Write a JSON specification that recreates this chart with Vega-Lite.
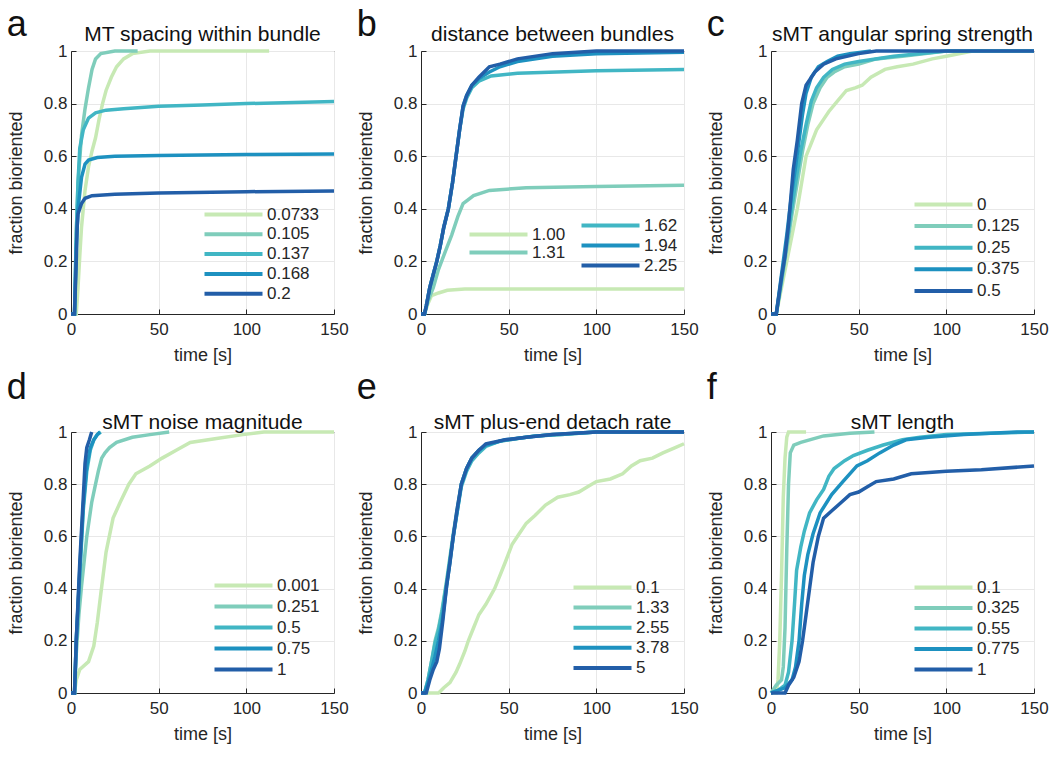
{
"$schema": "https://vega.github.io/schema/vega-lite/v6.json",
"padding": {"left": 6, "top": 6, "right": 2, "bottom": 2},
"background": "white",
"data": {"values": [
{"p":"a","s":"0.0733","t":0,"f":0},{"p":"a","s":"0.0733","t":3,"f":0},{"p":"a","s":"0.0733","t":4,"f":0.1},{"p":"a","s":"0.0733","t":5,"f":0.22},{"p":"a","s":"0.0733","t":6,"f":0.33},{"p":"a","s":"0.0733","t":8,"f":0.47},{"p":"a","s":"0.0733","t":10,"f":0.56},{"p":"a","s":"0.0733","t":12,"f":0.62},{"p":"a","s":"0.0733","t":14,"f":0.67},{"p":"a","s":"0.0733","t":16,"f":0.74},{"p":"a","s":"0.0733","t":18,"f":0.8},{"p":"a","s":"0.0733","t":20,"f":0.85},{"p":"a","s":"0.0733","t":23,"f":0.9},{"p":"a","s":"0.0733","t":26,"f":0.94},{"p":"a","s":"0.0733","t":30,"f":0.97},{"p":"a","s":"0.0733","t":35,"f":0.99},{"p":"a","s":"0.0733","t":45,"f":1},{"p":"a","s":"0.0733","t":113,"f":1},
{"p":"a","s":"0.105","t":0,"f":0},{"p":"a","s":"0.105","t":2,"f":0},{"p":"a","s":"0.105","t":3,"f":0.3},{"p":"a","s":"0.105","t":4,"f":0.5},{"p":"a","s":"0.105","t":6,"f":0.68},{"p":"a","s":"0.105","t":8,"f":0.78},{"p":"a","s":"0.105","t":10,"f":0.86},{"p":"a","s":"0.105","t":12,"f":0.93},{"p":"a","s":"0.105","t":14,"f":0.97},{"p":"a","s":"0.105","t":17,"f":0.99},{"p":"a","s":"0.105","t":25,"f":1},{"p":"a","s":"0.105","t":38,"f":1},
{"p":"a","s":"0.137","t":0,"f":0},{"p":"a","s":"0.137","t":2,"f":0},{"p":"a","s":"0.137","t":3,"f":0.3},{"p":"a","s":"0.137","t":4,"f":0.5},{"p":"a","s":"0.137","t":5,"f":0.63},{"p":"a","s":"0.137","t":7,"f":0.7},{"p":"a","s":"0.137","t":10,"f":0.745},{"p":"a","s":"0.137","t":14,"f":0.765},{"p":"a","s":"0.137","t":20,"f":0.775},{"p":"a","s":"0.137","t":30,"f":0.78},{"p":"a","s":"0.137","t":50,"f":0.79},{"p":"a","s":"0.137","t":75,"f":0.795},{"p":"a","s":"0.137","t":100,"f":0.8},{"p":"a","s":"0.137","t":150,"f":0.808},
{"p":"a","s":"0.168","t":0,"f":0},{"p":"a","s":"0.168","t":2,"f":0},{"p":"a","s":"0.168","t":3,"f":0.25},{"p":"a","s":"0.168","t":4,"f":0.4},{"p":"a","s":"0.168","t":6,"f":0.52},{"p":"a","s":"0.168","t":8,"f":0.57},{"p":"a","s":"0.168","t":10,"f":0.585},{"p":"a","s":"0.168","t":15,"f":0.595},{"p":"a","s":"0.168","t":25,"f":0.6},{"p":"a","s":"0.168","t":50,"f":0.603},{"p":"a","s":"0.168","t":100,"f":0.606},{"p":"a","s":"0.168","t":150,"f":0.608},
{"p":"a","s":"0.2","t":0,"f":0},{"p":"a","s":"0.2","t":2,"f":0},{"p":"a","s":"0.2","t":3,"f":0.2},{"p":"a","s":"0.2","t":3.5,"f":0.33},{"p":"a","s":"0.2","t":4,"f":0.38},{"p":"a","s":"0.2","t":6,"f":0.42},{"p":"a","s":"0.2","t":8,"f":0.44},{"p":"a","s":"0.2","t":12,"f":0.45},{"p":"a","s":"0.2","t":25,"f":0.455},{"p":"a","s":"0.2","t":50,"f":0.46},{"p":"a","s":"0.2","t":100,"f":0.465},{"p":"a","s":"0.2","t":150,"f":0.468},

{"p":"b","s":"1.00","t":0,"f":0},{"p":"b","s":"1.00","t":2,"f":0},{"p":"b","s":"1.00","t":4,"f":0.04},{"p":"b","s":"1.00","t":6,"f":0.07},{"p":"b","s":"1.00","t":10,"f":0.08},{"p":"b","s":"1.00","t":15,"f":0.09},{"p":"b","s":"1.00","t":25,"f":0.095},{"p":"b","s":"1.00","t":50,"f":0.095},{"p":"b","s":"1.00","t":100,"f":0.095},{"p":"b","s":"1.00","t":150,"f":0.095},
{"p":"b","s":"1.31","t":0,"f":0},{"p":"b","s":"1.31","t":2,"f":0},{"p":"b","s":"1.31","t":4,"f":0.05},{"p":"b","s":"1.31","t":7,"f":0.1},{"p":"b","s":"1.31","t":10,"f":0.17},{"p":"b","s":"1.31","t":14,"f":0.24},{"p":"b","s":"1.31","t":17.5,"f":0.3},{"p":"b","s":"1.31","t":21,"f":0.37},{"p":"b","s":"1.31","t":24,"f":0.42},{"p":"b","s":"1.31","t":30,"f":0.45},{"p":"b","s":"1.31","t":39,"f":0.47},{"p":"b","s":"1.31","t":60,"f":0.48},{"p":"b","s":"1.31","t":100,"f":0.485},{"p":"b","s":"1.31","t":150,"f":0.49},
{"p":"b","s":"1.62","t":0,"f":0},{"p":"b","s":"1.62","t":2,"f":0},{"p":"b","s":"1.62","t":3,"f":0.03},{"p":"b","s":"1.62","t":5,"f":0.1},{"p":"b","s":"1.62","t":7,"f":0.15},{"p":"b","s":"1.62","t":9,"f":0.2},{"p":"b","s":"1.62","t":11,"f":0.26},{"p":"b","s":"1.62","t":13,"f":0.33},{"p":"b","s":"1.62","t":15.6,"f":0.4},{"p":"b","s":"1.62","t":18,"f":0.5},{"p":"b","s":"1.62","t":20,"f":0.6},{"p":"b","s":"1.62","t":22,"f":0.7},{"p":"b","s":"1.62","t":24,"f":0.78},{"p":"b","s":"1.62","t":26,"f":0.82},{"p":"b","s":"1.62","t":29,"f":0.86},{"p":"b","s":"1.62","t":33,"f":0.885},{"p":"b","s":"1.62","t":40,"f":0.905},{"p":"b","s":"1.62","t":55,"f":0.915},{"p":"b","s":"1.62","t":100,"f":0.925},{"p":"b","s":"1.62","t":150,"f":0.93},
{"p":"b","s":"1.94","t":0,"f":0},{"p":"b","s":"1.94","t":2,"f":0},{"p":"b","s":"1.94","t":3,"f":0.03},{"p":"b","s":"1.94","t":5,"f":0.1},{"p":"b","s":"1.94","t":7,"f":0.15},{"p":"b","s":"1.94","t":9,"f":0.2},{"p":"b","s":"1.94","t":11,"f":0.26},{"p":"b","s":"1.94","t":13,"f":0.33},{"p":"b","s":"1.94","t":15.6,"f":0.4},{"p":"b","s":"1.94","t":18,"f":0.5},{"p":"b","s":"1.94","t":20,"f":0.6},{"p":"b","s":"1.94","t":22,"f":0.7},{"p":"b","s":"1.94","t":24,"f":0.79},{"p":"b","s":"1.94","t":26,"f":0.83},{"p":"b","s":"1.94","t":29,"f":0.87},{"p":"b","s":"1.94","t":33,"f":0.895},{"p":"b","s":"1.94","t":39,"f":0.92},{"p":"b","s":"1.94","t":45,"f":0.94},{"p":"b","s":"1.94","t":55,"f":0.96},{"p":"b","s":"1.94","t":75,"f":0.98},{"p":"b","s":"1.94","t":100,"f":0.99},{"p":"b","s":"1.94","t":150,"f":0.995},
{"p":"b","s":"2.25","t":0,"f":0},{"p":"b","s":"2.25","t":2,"f":0},{"p":"b","s":"2.25","t":3,"f":0.03},{"p":"b","s":"2.25","t":5,"f":0.1},{"p":"b","s":"2.25","t":7,"f":0.15},{"p":"b","s":"2.25","t":9,"f":0.2},{"p":"b","s":"2.25","t":11,"f":0.26},{"p":"b","s":"2.25","t":13,"f":0.33},{"p":"b","s":"2.25","t":15.6,"f":0.4},{"p":"b","s":"2.25","t":18,"f":0.5},{"p":"b","s":"2.25","t":20,"f":0.6},{"p":"b","s":"2.25","t":22,"f":0.7},{"p":"b","s":"2.25","t":24,"f":0.79},{"p":"b","s":"2.25","t":26,"f":0.83},{"p":"b","s":"2.25","t":29,"f":0.87},{"p":"b","s":"2.25","t":33,"f":0.9},{"p":"b","s":"2.25","t":39,"f":0.94},{"p":"b","s":"2.25","t":45,"f":0.95},{"p":"b","s":"2.25","t":55,"f":0.97},{"p":"b","s":"2.25","t":75,"f":0.99},{"p":"b","s":"2.25","t":100,"f":1},{"p":"b","s":"2.25","t":150,"f":1},

{"p":"c","s":"0","t":0,"f":0},{"p":"c","s":"0","t":3,"f":0},{"p":"c","s":"0","t":6,"f":0.1},{"p":"c","s":"0","t":9,"f":0.2},{"p":"c","s":"0","t":12,"f":0.3},{"p":"c","s":"0","t":15,"f":0.4},{"p":"c","s":"0","t":18,"f":0.52},{"p":"c","s":"0","t":20,"f":0.6},{"p":"c","s":"0","t":23,"f":0.65},{"p":"c","s":"0","t":26,"f":0.7},{"p":"c","s":"0","t":30,"f":0.74},{"p":"c","s":"0","t":33,"f":0.77},{"p":"c","s":"0","t":38,"f":0.81},{"p":"c","s":"0","t":43,"f":0.85},{"p":"c","s":"0","t":48,"f":0.86},{"p":"c","s":"0","t":52,"f":0.87},{"p":"c","s":"0","t":57,"f":0.9},{"p":"c","s":"0","t":65,"f":0.93},{"p":"c","s":"0","t":72,"f":0.94},{"p":"c","s":"0","t":81,"f":0.95},{"p":"c","s":"0","t":92,"f":0.97},{"p":"c","s":"0","t":100,"f":0.98},{"p":"c","s":"0","t":115,"f":1},{"p":"c","s":"0","t":150,"f":1},
{"p":"c","s":"0.125","t":0,"f":0},{"p":"c","s":"0.125","t":3,"f":0},{"p":"c","s":"0.125","t":6,"f":0.12},{"p":"c","s":"0.125","t":9,"f":0.25},{"p":"c","s":"0.125","t":12,"f":0.38},{"p":"c","s":"0.125","t":15,"f":0.5},{"p":"c","s":"0.125","t":18,"f":0.62},{"p":"c","s":"0.125","t":21,"f":0.72},{"p":"c","s":"0.125","t":24,"f":0.8},{"p":"c","s":"0.125","t":28,"f":0.86},{"p":"c","s":"0.125","t":32,"f":0.9},{"p":"c","s":"0.125","t":36,"f":0.92},{"p":"c","s":"0.125","t":42,"f":0.94},{"p":"c","s":"0.125","t":50,"f":0.95},{"p":"c","s":"0.125","t":60,"f":0.97},{"p":"c","s":"0.125","t":75,"f":0.98},{"p":"c","s":"0.125","t":100,"f":1},{"p":"c","s":"0.125","t":150,"f":1},
{"p":"c","s":"0.25","t":0,"f":0},{"p":"c","s":"0.25","t":3,"f":0},{"p":"c","s":"0.25","t":6,"f":0.13},{"p":"c","s":"0.25","t":9,"f":0.27},{"p":"c","s":"0.25","t":12,"f":0.41},{"p":"c","s":"0.25","t":15,"f":0.54},{"p":"c","s":"0.25","t":17,"f":0.62},{"p":"c","s":"0.25","t":20,"f":0.72},{"p":"c","s":"0.25","t":23,"f":0.81},{"p":"c","s":"0.25","t":26,"f":0.86},{"p":"c","s":"0.25","t":30,"f":0.9},{"p":"c","s":"0.25","t":35,"f":0.93},{"p":"c","s":"0.25","t":42,"f":0.95},{"p":"c","s":"0.25","t":50,"f":0.96},{"p":"c","s":"0.25","t":70,"f":0.98},{"p":"c","s":"0.25","t":100,"f":1},{"p":"c","s":"0.25","t":150,"f":1},
{"p":"c","s":"0.375","t":0,"f":0},{"p":"c","s":"0.375","t":3,"f":0},{"p":"c","s":"0.375","t":6,"f":0.15},{"p":"c","s":"0.375","t":9,"f":0.3},{"p":"c","s":"0.375","t":12,"f":0.47},{"p":"c","s":"0.375","t":14,"f":0.56},{"p":"c","s":"0.375","t":16,"f":0.66},{"p":"c","s":"0.375","t":18,"f":0.76},{"p":"c","s":"0.375","t":20,"f":0.84},{"p":"c","s":"0.375","t":23,"f":0.9},{"p":"c","s":"0.375","t":27,"f":0.94},{"p":"c","s":"0.375","t":32,"f":0.96},{"p":"c","s":"0.375","t":38,"f":0.98},{"p":"c","s":"0.375","t":45,"f":0.99},{"p":"c","s":"0.375","t":57,"f":1},
{"p":"c","s":"0.5","t":0,"f":0},{"p":"c","s":"0.5","t":3,"f":0},{"p":"c","s":"0.5","t":6,"f":0.14},{"p":"c","s":"0.5","t":8,"f":0.22},{"p":"c","s":"0.5","t":10,"f":0.34},{"p":"c","s":"0.5","t":12.7,"f":0.55},{"p":"c","s":"0.5","t":15,"f":0.66},{"p":"c","s":"0.5","t":17.5,"f":0.8},{"p":"c","s":"0.5","t":20,"f":0.87},{"p":"c","s":"0.5","t":25,"f":0.92},{"p":"c","s":"0.5","t":30,"f":0.95},{"p":"c","s":"0.5","t":37,"f":0.97},{"p":"c","s":"0.5","t":50,"f":0.99},{"p":"c","s":"0.5","t":60,"f":1},{"p":"c","s":"0.5","t":150,"f":1},

{"p":"d","s":"0.001","t":0,"f":0},{"p":"d","s":"0.001","t":2,"f":0},{"p":"d","s":"0.001","t":3,"f":0.05},{"p":"d","s":"0.001","t":5,"f":0.09},{"p":"d","s":"0.001","t":10,"f":0.12},{"p":"d","s":"0.001","t":13,"f":0.18},{"p":"d","s":"0.001","t":15,"f":0.27},{"p":"d","s":"0.001","t":17,"f":0.38},{"p":"d","s":"0.001","t":20,"f":0.54},{"p":"d","s":"0.001","t":24,"f":0.67},{"p":"d","s":"0.001","t":28,"f":0.73},{"p":"d","s":"0.001","t":33,"f":0.8},{"p":"d","s":"0.001","t":37,"f":0.84},{"p":"d","s":"0.001","t":45,"f":0.87},{"p":"d","s":"0.001","t":52,"f":0.9},{"p":"d","s":"0.001","t":60,"f":0.93},{"p":"d","s":"0.001","t":68,"f":0.96},{"p":"d","s":"0.001","t":83,"f":0.975},{"p":"d","s":"0.001","t":98,"f":0.99},{"p":"d","s":"0.001","t":110,"f":1},{"p":"d","s":"0.001","t":150,"f":1},
{"p":"d","s":"0.251","t":0,"f":0},{"p":"d","s":"0.251","t":2,"f":0},{"p":"d","s":"0.251","t":3,"f":0.15},{"p":"d","s":"0.251","t":4.5,"f":0.3},{"p":"d","s":"0.251","t":6,"f":0.41},{"p":"d","s":"0.251","t":9,"f":0.6},{"p":"d","s":"0.251","t":11.8,"f":0.73},{"p":"d","s":"0.251","t":14,"f":0.8},{"p":"d","s":"0.251","t":15.6,"f":0.85},{"p":"d","s":"0.251","t":17.5,"f":0.9},{"p":"d","s":"0.251","t":19.4,"f":0.92},{"p":"d","s":"0.251","t":22,"f":0.94},{"p":"d","s":"0.251","t":26,"f":0.96},{"p":"d","s":"0.251","t":35,"f":0.98},{"p":"d","s":"0.251","t":45,"f":0.99},{"p":"d","s":"0.251","t":56,"f":1},
{"p":"d","s":"0.5","t":0,"f":0},{"p":"d","s":"0.5","t":2,"f":0},{"p":"d","s":"0.5","t":3,"f":0.2},{"p":"d","s":"0.5","t":5,"f":0.45},{"p":"d","s":"0.5","t":7,"f":0.7},{"p":"d","s":"0.5","t":9,"f":0.85},{"p":"d","s":"0.5","t":11,"f":0.93},{"p":"d","s":"0.5","t":13,"f":0.97},{"p":"d","s":"0.5","t":15,"f":0.99},{"p":"d","s":"0.5","t":17,"f":1},
{"p":"d","s":"0.75","t":0,"f":0},{"p":"d","s":"0.75","t":2,"f":0},{"p":"d","s":"0.75","t":3,"f":0.2},{"p":"d","s":"0.75","t":5,"f":0.47},{"p":"d","s":"0.75","t":7,"f":0.72},{"p":"d","s":"0.75","t":9,"f":0.87},{"p":"d","s":"0.75","t":11,"f":0.94},{"p":"d","s":"0.75","t":13,"f":0.97},{"p":"d","s":"0.75","t":15,"f":0.99},{"p":"d","s":"0.75","t":16.5,"f":1},
{"p":"d","s":"1","t":0,"f":0},{"p":"d","s":"1","t":2,"f":0},{"p":"d","s":"1","t":3,"f":0.2},{"p":"d","s":"1","t":5,"f":0.5},{"p":"d","s":"1","t":7,"f":0.75},{"p":"d","s":"1","t":8,"f":0.88},{"p":"d","s":"1","t":9,"f":0.94},{"p":"d","s":"1","t":10.5,"f":0.97},{"p":"d","s":"1","t":11.8,"f":1},

{"p":"e","s":"0.1","t":0,"f":0},{"p":"e","s":"0.1","t":10,"f":0},{"p":"e","s":"0.1","t":13,"f":0.02},{"p":"e","s":"0.1","t":16.5,"f":0.04},{"p":"e","s":"0.1","t":20,"f":0.08},{"p":"e","s":"0.1","t":22,"f":0.11},{"p":"e","s":"0.1","t":25,"f":0.16},{"p":"e","s":"0.1","t":27,"f":0.2},{"p":"e","s":"0.1","t":30,"f":0.25},{"p":"e","s":"0.1","t":33,"f":0.3},{"p":"e","s":"0.1","t":37,"f":0.34},{"p":"e","s":"0.1","t":42,"f":0.4},{"p":"e","s":"0.1","t":45,"f":0.45},{"p":"e","s":"0.1","t":48,"f":0.5},{"p":"e","s":"0.1","t":52,"f":0.57},{"p":"e","s":"0.1","t":56,"f":0.61},{"p":"e","s":"0.1","t":60,"f":0.65},{"p":"e","s":"0.1","t":65,"f":0.68},{"p":"e","s":"0.1","t":71,"f":0.72},{"p":"e","s":"0.1","t":78,"f":0.75},{"p":"e","s":"0.1","t":85,"f":0.76},{"p":"e","s":"0.1","t":90,"f":0.77},{"p":"e","s":"0.1","t":95,"f":0.79},{"p":"e","s":"0.1","t":100,"f":0.81},{"p":"e","s":"0.1","t":108,"f":0.82},{"p":"e","s":"0.1","t":115,"f":0.84},{"p":"e","s":"0.1","t":120,"f":0.87},{"p":"e","s":"0.1","t":125,"f":0.89},{"p":"e","s":"0.1","t":132,"f":0.9},{"p":"e","s":"0.1","t":138,"f":0.92},{"p":"e","s":"0.1","t":145,"f":0.94},{"p":"e","s":"0.1","t":150,"f":0.955},
{"p":"e","s":"1.33","t":0,"f":0},{"p":"e","s":"1.33","t":2,"f":0},{"p":"e","s":"1.33","t":4,"f":0.05},{"p":"e","s":"1.33","t":6,"f":0.12},{"p":"e","s":"1.33","t":8,"f":0.2},{"p":"e","s":"1.33","t":10,"f":0.25},{"p":"e","s":"1.33","t":12,"f":0.32},{"p":"e","s":"1.33","t":14.6,"f":0.43},{"p":"e","s":"1.33","t":16.5,"f":0.52},{"p":"e","s":"1.33","t":18.4,"f":0.61},{"p":"e","s":"1.33","t":21,"f":0.72},{"p":"e","s":"1.33","t":23,"f":0.8},{"p":"e","s":"1.33","t":26,"f":0.86},{"p":"e","s":"1.33","t":29,"f":0.9},{"p":"e","s":"1.33","t":33,"f":0.93},{"p":"e","s":"1.33","t":37,"f":0.95},{"p":"e","s":"1.33","t":45,"f":0.965},{"p":"e","s":"1.33","t":55,"f":0.975},{"p":"e","s":"1.33","t":65,"f":0.985},{"p":"e","s":"1.33","t":80,"f":0.99},{"p":"e","s":"1.33","t":100,"f":1},{"p":"e","s":"1.33","t":150,"f":1},
{"p":"e","s":"2.55","t":0,"f":0},{"p":"e","s":"2.55","t":2,"f":0},{"p":"e","s":"2.55","t":4,"f":0.05},{"p":"e","s":"2.55","t":6,"f":0.12},{"p":"e","s":"2.55","t":8,"f":0.19},{"p":"e","s":"2.55","t":10,"f":0.24},{"p":"e","s":"2.55","t":12,"f":0.31},{"p":"e","s":"2.55","t":14.6,"f":0.42},{"p":"e","s":"2.55","t":16.5,"f":0.51},{"p":"e","s":"2.55","t":18.4,"f":0.6},{"p":"e","s":"2.55","t":21,"f":0.71},{"p":"e","s":"2.55","t":23,"f":0.79},{"p":"e","s":"2.55","t":26,"f":0.85},{"p":"e","s":"2.55","t":29,"f":0.89},{"p":"e","s":"2.55","t":33,"f":0.92},{"p":"e","s":"2.55","t":37,"f":0.945},{"p":"e","s":"2.55","t":45,"f":0.965},{"p":"e","s":"2.55","t":55,"f":0.975},{"p":"e","s":"2.55","t":65,"f":0.985},{"p":"e","s":"2.55","t":80,"f":0.99},{"p":"e","s":"2.55","t":100,"f":1},{"p":"e","s":"2.55","t":150,"f":1},
{"p":"e","s":"3.78","t":0,"f":0},{"p":"e","s":"3.78","t":2,"f":0},{"p":"e","s":"3.78","t":4,"f":0.04},{"p":"e","s":"3.78","t":6,"f":0.09},{"p":"e","s":"3.78","t":8,"f":0.14},{"p":"e","s":"3.78","t":10,"f":0.2},{"p":"e","s":"3.78","t":12,"f":0.27},{"p":"e","s":"3.78","t":14.6,"f":0.41},{"p":"e","s":"3.78","t":16.5,"f":0.5},{"p":"e","s":"3.78","t":18.4,"f":0.6},{"p":"e","s":"3.78","t":21,"f":0.71},{"p":"e","s":"3.78","t":23,"f":0.8},{"p":"e","s":"3.78","t":26,"f":0.86},{"p":"e","s":"3.78","t":29,"f":0.9},{"p":"e","s":"3.78","t":33,"f":0.93},{"p":"e","s":"3.78","t":37,"f":0.95},{"p":"e","s":"3.78","t":48,"f":0.97},{"p":"e","s":"3.78","t":60,"f":0.98},{"p":"e","s":"3.78","t":75,"f":0.99},{"p":"e","s":"3.78","t":100,"f":1},{"p":"e","s":"3.78","t":150,"f":1},
{"p":"e","s":"5","t":0,"f":0},{"p":"e","s":"5","t":3,"f":0},{"p":"e","s":"5","t":5,"f":0.05},{"p":"e","s":"5","t":7,"f":0.09},{"p":"e","s":"5","t":9,"f":0.12},{"p":"e","s":"5","t":10.5,"f":0.17},{"p":"e","s":"5","t":12.5,"f":0.28},{"p":"e","s":"5","t":14.6,"f":0.41},{"p":"e","s":"5","t":16.5,"f":0.5},{"p":"e","s":"5","t":18.4,"f":0.6},{"p":"e","s":"5","t":20.5,"f":0.7},{"p":"e","s":"5","t":23,"f":0.8},{"p":"e","s":"5","t":26,"f":0.86},{"p":"e","s":"5","t":29,"f":0.9},{"p":"e","s":"5","t":33,"f":0.93},{"p":"e","s":"5","t":37,"f":0.955},{"p":"e","s":"5","t":48,"f":0.97},{"p":"e","s":"5","t":60,"f":0.98},{"p":"e","s":"5","t":75,"f":0.99},{"p":"e","s":"5","t":100,"f":1},{"p":"e","s":"5","t":150,"f":1},

{"p":"f","s":"0.1","t":0,"f":0},{"p":"f","s":"0.1","t":3,"f":0},{"p":"f","s":"0.1","t":4,"f":0.05},{"p":"f","s":"0.1","t":5,"f":0.2},{"p":"f","s":"0.1","t":6,"f":0.45},{"p":"f","s":"0.1","t":7,"f":0.75},{"p":"f","s":"0.1","t":8,"f":0.9},{"p":"f","s":"0.1","t":9,"f":0.98},{"p":"f","s":"0.1","t":10,"f":1},{"p":"f","s":"0.1","t":20,"f":1},
{"p":"f","s":"0.325","t":0,"f":0},{"p":"f","s":"0.325","t":3,"f":0.03},{"p":"f","s":"0.325","t":6,"f":0.05},{"p":"f","s":"0.325","t":7,"f":0.1},{"p":"f","s":"0.325","t":8,"f":0.25},{"p":"f","s":"0.325","t":9,"f":0.55},{"p":"f","s":"0.325","t":10,"f":0.8},{"p":"f","s":"0.325","t":11,"f":0.92},{"p":"f","s":"0.325","t":13,"f":0.95},{"p":"f","s":"0.325","t":17,"f":0.96},{"p":"f","s":"0.325","t":22,"f":0.97},{"p":"f","s":"0.325","t":30,"f":0.985},{"p":"f","s":"0.325","t":45,"f":0.995},{"p":"f","s":"0.325","t":59,"f":1},
{"p":"f","s":"0.55","t":0,"f":0},{"p":"f","s":"0.55","t":4,"f":0.01},{"p":"f","s":"0.55","t":8,"f":0.03},{"p":"f","s":"0.55","t":10,"f":0.08},{"p":"f","s":"0.55","t":12,"f":0.2},{"p":"f","s":"0.55","t":13.5,"f":0.35},{"p":"f","s":"0.55","t":14.6,"f":0.47},{"p":"f","s":"0.55","t":17,"f":0.56},{"p":"f","s":"0.55","t":19,"f":0.62},{"p":"f","s":"0.55","t":22,"f":0.69},{"p":"f","s":"0.55","t":26,"f":0.74},{"p":"f","s":"0.55","t":30,"f":0.78},{"p":"f","s":"0.55","t":33,"f":0.83},{"p":"f","s":"0.55","t":36,"f":0.86},{"p":"f","s":"0.55","t":42,"f":0.89},{"p":"f","s":"0.55","t":47,"f":0.91},{"p":"f","s":"0.55","t":55,"f":0.93},{"p":"f","s":"0.55","t":64,"f":0.95},{"p":"f","s":"0.55","t":75,"f":0.97},{"p":"f","s":"0.55","t":85,"f":0.98},{"p":"f","s":"0.55","t":100,"f":0.99},{"p":"f","s":"0.55","t":150,"f":1},
{"p":"f","s":"0.775","t":0,"f":0},{"p":"f","s":"0.775","t":4,"f":0.01},{"p":"f","s":"0.775","t":8,"f":0.02},{"p":"f","s":"0.775","t":12,"f":0.05},{"p":"f","s":"0.775","t":14,"f":0.1},{"p":"f","s":"0.775","t":16,"f":0.2},{"p":"f","s":"0.775","t":17.5,"f":0.34},{"p":"f","s":"0.775","t":19,"f":0.45},{"p":"f","s":"0.775","t":21,"f":0.53},{"p":"f","s":"0.775","t":24,"f":0.61},{"p":"f","s":"0.775","t":28,"f":0.69},{"p":"f","s":"0.775","t":34.6,"f":0.76},{"p":"f","s":"0.775","t":41,"f":0.81},{"p":"f","s":"0.775","t":49,"f":0.87},{"p":"f","s":"0.775","t":55,"f":0.89},{"p":"f","s":"0.775","t":62,"f":0.92},{"p":"f","s":"0.775","t":70,"f":0.95},{"p":"f","s":"0.775","t":77,"f":0.97},{"p":"f","s":"0.775","t":90,"f":0.98},{"p":"f","s":"0.775","t":110,"f":0.99},{"p":"f","s":"0.775","t":140,"f":1},{"p":"f","s":"0.775","t":150,"f":1},
{"p":"f","s":"1","t":0,"f":0},{"p":"f","s":"1","t":8,"f":0},{"p":"f","s":"1","t":10,"f":0.03},{"p":"f","s":"1","t":13,"f":0.06},{"p":"f","s":"1","t":16,"f":0.12},{"p":"f","s":"1","t":18,"f":0.2},{"p":"f","s":"1","t":20,"f":0.3},{"p":"f","s":"1","t":22,"f":0.4},{"p":"f","s":"1","t":24,"f":0.5},{"p":"f","s":"1","t":27,"f":0.6},{"p":"f","s":"1","t":30,"f":0.67},{"p":"f","s":"1","t":35,"f":0.7},{"p":"f","s":"1","t":40,"f":0.73},{"p":"f","s":"1","t":45,"f":0.76},{"p":"f","s":"1","t":50,"f":0.77},{"p":"f","s":"1","t":55,"f":0.79},{"p":"f","s":"1","t":60,"f":0.81},{"p":"f","s":"1","t":70,"f":0.82},{"p":"f","s":"1","t":80,"f":0.84},{"p":"f","s":"1","t":100,"f":0.85},{"p":"f","s":"1","t":120,"f":0.855},{"p":"f","s":"1","t":150,"f":0.87}
]},
"spacing": 4,
"resolve": {"scale": {"color": "independent"}, "legend": {"color": "independent"}},
"vconcat": [
{"hconcat": [
 {"title": {"text": "a", "anchor": "start", "frame": "bounds", "fontSize": 36, "offset": -20},
  "vconcat": [{
   "width": 263, "height": 263,
   "title": {"text": "MT spacing within bundle", "offset": -3},
   "transform": [{"filter": "datum.p === 'a'"}],
   "mark": {"type": "line", "strokeWidth": 3.5},
   "encoding": {
    "x": {"field": "t", "type": "quantitative", "scale": {"domain": [0, 150], "nice": false}, "axis": {"title": "time [s]", "values": [0, 50, 100, 150]}},
    "y": {"field": "f", "type": "quantitative", "scale": {"domain": [0, 1]}, "axis": {"title": "fraction bioriented", "values": [0, 0.2, 0.4, 0.6, 0.8, 1], "format": "~g"}},
    "color": {"field": "s", "type": "nominal", "scale": {"domain": ["0.0733", "0.105", "0.137", "0.168", "0.2"], "range": ["#c7e9b4", "#7fcdbb", "#41b6c4", "#1d91c0", "#225ea8"]},
     "legend": {"title": null, "orient": "none", "legendX": 125, "legendY": 155, "rowPadding": 1.8}}
   }
  }]},
 {"title": {"text": "b", "anchor": "start", "frame": "bounds", "fontSize": 36, "offset": -20},
  "vconcat": [{
   "width": 263, "height": 263,
   "title": {"text": "distance between bundles", "offset": -3},
   "resolve": {"scale": {"color": "independent"}, "legend": {"color": "independent"}},
   "layer": [
    {"transform": [{"filter": "datum.p === 'b' && (datum.s === '1.00' || datum.s === '1.31')"}],
     "mark": {"type": "line", "strokeWidth": 3.5},
     "encoding": {
      "x": {"field": "t", "type": "quantitative", "scale": {"domain": [0, 150], "nice": false}, "axis": {"title": "time [s]", "values": [0, 50, 100, 150]}},
      "y": {"field": "f", "type": "quantitative", "scale": {"domain": [0, 1]}, "axis": {"title": "fraction bioriented", "values": [0, 0.2, 0.4, 0.6, 0.8, 1], "format": "~g"}},
      "color": {"field": "s", "type": "nominal", "scale": {"domain": ["1.00", "1.31"], "range": ["#c7e9b4", "#7fcdbb"]},
       "legend": {"title": null, "orient": "none", "legendX": 40, "legendY": 175, "rowPadding": 0}}
     }},
    {"transform": [{"filter": "datum.p === 'b' && datum.s !== '1.00' && datum.s !== '1.31'"}],
     "mark": {"type": "line", "strokeWidth": 3.5},
     "encoding": {
      "x": {"field": "t", "type": "quantitative"},
      "y": {"field": "f", "type": "quantitative"},
      "color": {"field": "s", "type": "nominal", "scale": {"domain": ["1.62", "1.94", "2.25"], "range": ["#41b6c4", "#1d91c0", "#225ea8"]},
       "legend": {"title": null, "orient": "none", "legendX": 152, "legendY": 166, "rowPadding": 2}}
     }}
   ]
  }]},
 {"title": {"text": "c", "anchor": "start", "frame": "bounds", "fontSize": 36, "offset": -20},
  "vconcat": [{
   "width": 263, "height": 263,
   "title": {"text": "sMT angular spring strength", "offset": -3},
   "transform": [{"filter": "datum.p === 'c'"}],
   "mark": {"type": "line", "strokeWidth": 3.5},
   "encoding": {
    "x": {"field": "t", "type": "quantitative", "scale": {"domain": [0, 150], "nice": false}, "axis": {"title": "time [s]", "values": [0, 50, 100, 150]}},
    "y": {"field": "f", "type": "quantitative", "scale": {"domain": [0, 1]}, "axis": {"title": "fraction bioriented", "values": [0, 0.2, 0.4, 0.6, 0.8, 1], "format": "~g"}},
    "color": {"field": "s", "type": "nominal", "scale": {"domain": ["0", "0.125", "0.25", "0.375", "0.5"], "range": ["#c7e9b4", "#7fcdbb", "#41b6c4", "#1d91c0", "#225ea8"]},
     "legend": {"title": null, "orient": "none", "legendX": 135, "legendY": 145, "rowPadding": 3.6}}
   }
  }]}
], "spacing": 7, "resolve": {"scale": {"color": "independent"}, "legend": {"color": "independent"}}},
{"hconcat": [
 {"title": {"text": "d", "anchor": "start", "frame": "bounds", "fontSize": 36, "offset": 5},
  "vconcat": [{
   "width": 263, "height": 261,
   "title": {"text": "sMT noise magnitude", "offset": -10},
   "transform": [{"filter": "datum.p === 'd'"}],
   "mark": {"type": "line", "strokeWidth": 3.5},
   "encoding": {
    "x": {"field": "t", "type": "quantitative", "scale": {"domain": [0, 150], "nice": false}, "axis": {"title": "time [s]", "values": [0, 50, 100, 150]}},
    "y": {"field": "f", "type": "quantitative", "scale": {"domain": [0, 1]}, "axis": {"title": "fraction bioriented", "values": [0, 0.2, 0.4, 0.6, 0.8, 1], "format": "~g"}},
    "color": {"field": "s", "type": "nominal", "scale": {"domain": ["0.001", "0.251", "0.5", "0.75", "1"], "range": ["#c7e9b4", "#7fcdbb", "#41b6c4", "#1d91c0", "#225ea8"]},
     "legend": {"title": null, "orient": "none", "legendX": 135, "legendY": 145, "rowPadding": 3}}
   }
  }]},
 {"title": {"text": "e", "anchor": "start", "frame": "bounds", "fontSize": 36, "offset": 5},
  "vconcat": [{
   "width": 263, "height": 261,
   "title": {"text": "sMT plus-end detach rate", "offset": -10},
   "transform": [{"filter": "datum.p === 'e'"}],
   "mark": {"type": "line", "strokeWidth": 3.5},
   "encoding": {
    "x": {"field": "t", "type": "quantitative", "scale": {"domain": [0, 150], "nice": false}, "axis": {"title": "time [s]", "values": [0, 50, 100, 150]}},
    "y": {"field": "f", "type": "quantitative", "scale": {"domain": [0, 1]}, "axis": {"title": "fraction bioriented", "values": [0, 0.2, 0.4, 0.6, 0.8, 1], "format": "~g"}},
    "color": {"field": "s", "type": "nominal", "scale": {"domain": ["0.1", "1.33", "2.55", "3.78", "5"], "range": ["#c7e9b4", "#7fcdbb", "#41b6c4", "#1d91c0", "#225ea8"]},
     "legend": {"title": null, "orient": "none", "legendX": 144, "legendY": 147, "rowPadding": 2.1}}
   }
  }]},
 {"title": {"text": "f", "anchor": "start", "frame": "bounds", "fontSize": 36, "offset": 5},
  "vconcat": [{
   "width": 263, "height": 261,
   "title": {"text": "sMT length", "offset": -10},
   "transform": [{"filter": "datum.p === 'f'"}],
   "mark": {"type": "line", "strokeWidth": 3.5},
   "encoding": {
    "x": {"field": "t", "type": "quantitative", "scale": {"domain": [0, 150], "nice": false}, "axis": {"title": "time [s]", "values": [0, 50, 100, 150]}},
    "y": {"field": "f", "type": "quantitative", "scale": {"domain": [0, 1]}, "axis": {"title": "fraction bioriented", "values": [0, 0.2, 0.4, 0.6, 0.8, 1], "format": "~g"}},
    "color": {"field": "s", "type": "nominal", "scale": {"domain": ["0.1", "0.325", "0.55", "0.775", "1"], "range": ["#c7e9b4", "#7fcdbb", "#41b6c4", "#1d91c0", "#225ea8"]},
     "legend": {"title": null, "orient": "none", "legendX": 135, "legendY": 147, "rowPadding": 2.5}}
   }
  }]}
], "spacing": 7, "resolve": {"scale": {"color": "independent"}, "legend": {"color": "independent"}}}
],
"config": {
 "font": "Liberation Sans",
 "view": {"stroke": "#262626", "strokeWidth": 1},
 "title": {"fontSize": 21, "fontWeight": "normal", "color": "#111111"},
 "axis": {"labelFontSize": 17, "titleFontSize": 18, "titleFontWeight": "normal", "labelColor": "#262626", "titleColor": "#262626", "domainColor": "#262626", "tickColor": "#262626", "gridColor": "#e8e8e8", "tickSize": -5, "labelFlush": false, "labelOverlap": false},
 "axisX": {"labelPadding": 12, "titlePadding": 9},
 "axisY": {"labelPadding": 9, "titlePadding": 18},
 "legend": {"labelFontSize": 17, "labelColor": "#262626", "symbolType": "M0,0H11.6", "symbolSize": 100, "symbolStrokeWidth": 4, "labelOffset": 54, "padding": 0}
}
}
